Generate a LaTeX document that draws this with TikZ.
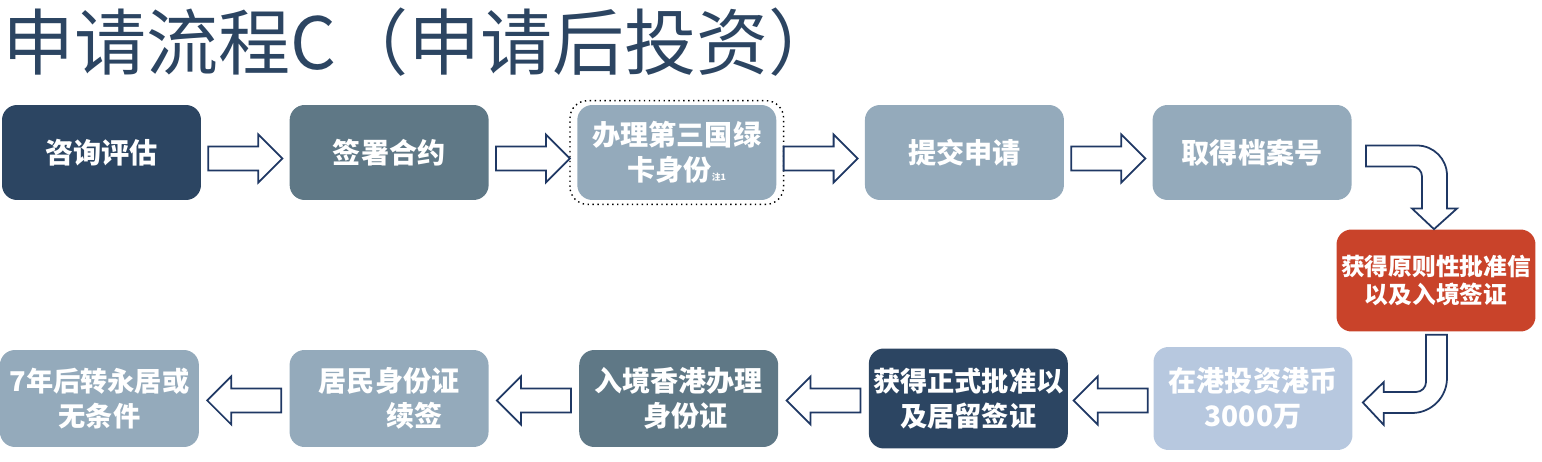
\documentclass[tikz,border=0pt]{standalone}
\usepackage{fontspec}
\setmainfont{Noto Sans CJK SC}
\usetikzlibrary{positioning, calc}

\definecolor{navy}{HTML}{2C4562}
\definecolor{slate}{HTML}{5F7886}
\definecolor{greyblue}{HTML}{94AABB}
\definecolor{paleblue}{HTML}{B7C8DF}
\definecolor{brick}{HTML}{C9432A}
\definecolor{arrowline}{HTML}{1F3864}

% hollow block arrow between two anchors: tail, head, direction (1 or -1), y offset
\newcommand{\stagearrow}[4]{%
  \draw[blockarrow, shift={($(#1)!0.5!(#2)+(0,#4)$)}, xscale=#3]
    (-37,12) -- (13,12) -- (13,24) -- (37,0) -- (13,-24) -- (13,-12) -- (-37,-12) -- cycle;}

\begin{document}
\begin{tikzpicture}[
    x=0.02cm, y=0.02cm,
    stage/.style={rectangle, rounded corners=0.3cm, minimum width=3.98cm, minimum height=1.9cm,
      inner sep=0pt, align=center, text=white, font=\bfseries\fontsize{16}{20}\selectfont},
    blockarrow/.style={draw=arrowline, line width=1pt, fill=white, line join=miter}
]
\useasboundingbox (0,0) rectangle (1542,-462);

\node[anchor=west, inner sep=0pt, text=navy, font=\fontsize{41}{41}\selectfont] (title) at (2,-42) {申请流程C（申请后投资）};

% top row
\node[stage, fill=navy] (consult) at (101.5,-152.5) {咨询评估};
\node[stage, fill=slate, right=1.76cm of consult] (contract) {签署合约};
\node[stage, fill=greyblue, right=1.76cm of contract] (greencard) {办理第三国绿\\卡身份{\fontsize{5}{6}\selectfont 注1}};
\node[stage, fill=greyblue, right=1.76cm of greencard] (submit) {提交申请};
\node[stage, fill=greyblue, right=1.76cm of submit] (fileno) {取得档案号};
\draw[dotted, line width=0.8pt, rounded corners=0.35cm] ($(greencard.south west)+(-7,-4)$) rectangle ($(greencard.north east)+(7,4)$);

% turning point
\node[stage, fill=brick, minimum height=2.04cm, font=\bfseries\fontsize{13.5}{15.5}\selectfont] (approval) at (1436,-280.5) {获得原则性批准信\\以及入境签证};

% bottom row
\node[stage, fill=paleblue, minimum height=2.06cm] (invest) at (1253,-398.5) {在港投资港币\\3000万};
\node[stage, fill=navy, minimum height=2cm, left=1.7cm of invest, font=\bfseries\fontsize{15.5}{20}\selectfont] (residence) {获得正式批准以\\及居留签证};
\node[stage, fill=slate, minimum height=1.94cm, left=1.8cm of residence] (entry) {入境香港办理\\\hspace*{0.5em}身份证};
\node[stage, fill=greyblue, minimum height=1.94cm, left=1.8cm of entry] (renew) {居民身份证\\\hspace*{1.8em}续签};
\node[stage, fill=greyblue, minimum height=1.94cm, left=1.8cm of renew, font=\bfseries\fontsize{15.5}{20}\selectfont] (permanent) {7年后转永居或\\无条件};

\stagearrow{consult.east}{contract.west}{1}{-6}
\stagearrow{contract.east}{greencard.west}{1}{-6}
\stagearrow{greencard.east}{submit.west}{1}{-6}
\stagearrow{submit.east}{fileno.west}{1}{-6}

% bend down into the red box
\coordinate (ka) at (approval.north |- fileno.east);
\draw[blockarrow] ($(fileno.east)+(14,7)$) -- ($(ka)+(-19,7)$) arc[start angle=90, end angle=0, radius=0.6cm]
  -- ($(ka)+(11,-56)$) -- ($(ka)+(21,-56)$) -- ($(approval.north)+(-2,0)$) -- ($(ka)+(-24,-56)$)
  -- ($(ka)+(-14,-56)$) -- ($(ka)+(-14,-24)$) arc[start angle=0, end angle=90, radius=0.2cm]
  -- ($(fileno.east)+(14,-14)$) -- cycle;

% bend from the red box back to the bottom row
\coordinate (kb) at (approval.south |- invest.east);
\draw[blockarrow] ($(approval.south)+(-10,-3)$) -- ($(kb)+(-10,16.5)$) arc[start angle=0, end angle=-90, radius=0.2cm]
  -- ($(invest.east)+(31,6.5)$) -- ($(invest.east)+(31,16.5)$) -- ($(invest.east)+(10,-4)$)
  -- ($(invest.east)+(31,-26.5)$) -- ($(invest.east)+(31,-14.5)$) -- ($(kb)+(-24,-14.5)$)
  arc[start angle=-90, end angle=0, radius=0.7cm] -- ($(approval.south)+(11,-3)$) -- cycle;

\stagearrow{invest.west}{residence.east}{-1}{-2}
\stagearrow{residence.west}{entry.east}{-1}{-2}
\stagearrow{entry.west}{renew.east}{-1}{-2}
\stagearrow{renew.west}{permanent.east}{-1}{-2}
\end{tikzpicture}
\end{document}
